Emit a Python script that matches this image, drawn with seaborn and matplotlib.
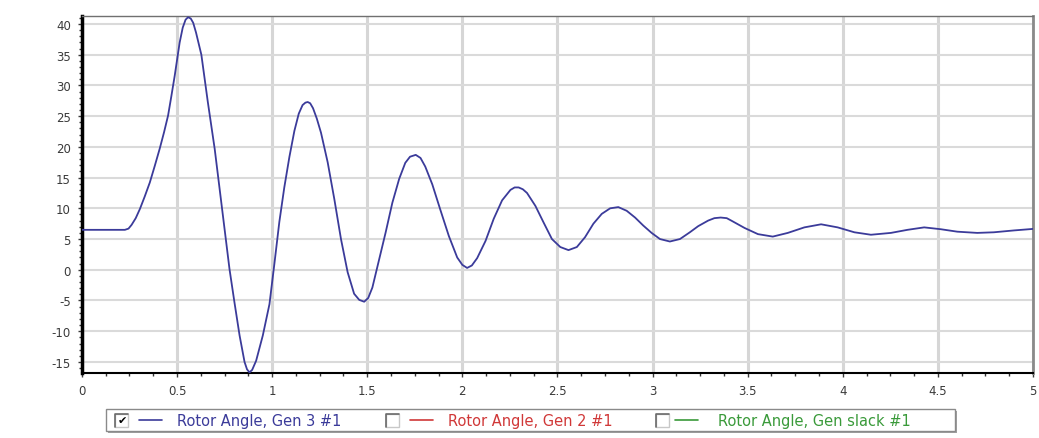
import numpy as np
import pandas as pd
import matplotlib
matplotlib.use("Agg")
import matplotlib.pyplot as plt
from matplotlib.patches import Rectangle
from matplotlib.lines import Line2D
from matplotlib.ticker import MultipleLocator, FuncFormatter
import seaborn as sns

# ---- data ----
time_s = [0.0, 0.10, 0.226, 0.245, 0.261, 0.283, 0.305, 0.330, 0.357, 0.383, 0.409, 0.432,
          0.453, 0.470, 0.488, 0.502, 0.514, 0.530, 0.545,
          0.558, 0.572, 0.585, 0.600, 0.628, 0.662, 0.698, 0.724, 0.750, 0.776, 0.802,
          0.829, 0.855, 0.868, 0.881, 0.895, 0.916, 0.951, 0.986, 1.012, 1.038, 1.064,
          1.091, 1.117, 1.140, 1.160, 1.175, 1.187, 1.200, 1.215, 1.235, 1.257, 1.292,
          1.327, 1.362, 1.397, 1.431, 1.458, 1.484, 1.505, 1.527, 1.562, 1.597, 1.632,
          1.668, 1.700, 1.725, 1.755, 1.780, 1.805, 1.842, 1.885, 1.929, 1.973, 2.000,
          2.025, 2.050, 2.078, 2.122, 2.165, 2.209, 2.253, 2.275, 2.296, 2.318, 2.340,
          2.384, 2.427, 2.471, 2.515, 2.558, 2.602, 2.645, 2.689, 2.733, 2.777, 2.820,
          2.864, 2.908, 2.951, 2.995, 3.039, 3.091, 3.144, 3.196, 3.240, 3.292, 3.325,
          3.358, 3.390, 3.414, 3.484, 3.554, 3.632, 3.711, 3.798, 3.886, 3.973, 4.061,
          4.148, 4.253, 4.340, 4.428, 4.515, 4.602, 4.707, 4.794, 4.899, 5.0]
rotor_angle_gen3 = [6.5, 6.5, 6.5, 6.7, 7.3, 8.4, 9.9, 11.9, 14.2, 16.9, 19.7, 22.4,
                    25.1, 28.2, 31.6, 34.5, 37.0, 39.4, 40.7,
                    41.1, 40.9, 40.2, 38.6, 35.0, 27.3, 19.7, 13.2, 6.6, 0.1, -5.3,
                    -10.7, -15.0, -16.2, -16.7, -16.3, -14.8, -10.7, -5.6, 1.0, 7.8, 13.4,
                    18.4, 22.6, 25.4, 26.8, 27.2, 27.3, 27.1, 26.3, 24.6, 22.3, 17.5,
                    11.5, 5.0, -0.4, -3.9, -4.9, -5.2, -4.6, -2.9, 1.6, 6.1, 10.9,
                    14.8, 17.4, 18.4, 18.7, 18.2, 16.8, 13.9, 9.7, 5.5, 2.0, 0.8,
                    0.3, 0.7, 1.9, 4.7, 8.3, 11.3, 13.0, 13.4, 13.4, 13.1, 12.5,
                    10.4, 7.7, 5.0, 3.7, 3.2, 3.7, 5.3, 7.5, 9.1, 10.0, 10.2,
                    9.6, 8.5, 7.2, 6.0, 5.0, 4.6, 5.0, 6.1, 7.1, 8.0, 8.4,
                    8.5, 8.4, 8.0, 6.8, 5.8, 5.4, 6.0, 6.9, 7.4, 6.9, 6.1,
                    5.7, 6.0, 6.5, 6.9, 6.6, 6.2, 6.0, 6.1, 6.4, 6.65]
series_labels = ["Rotor Angle, Gen 3 #1", "Rotor Angle, Gen 2 #1", "Rotor Angle, Gen slack #1"]
series_colors = ["#3b3b9a", "#d03838", "#3a9a3a"]
series_checked = [True, False, False]
x_ticks = [0, 0.5, 1, 1.5, 2, 2.5, 3, 3.5, 4, 4.5, 5]
y_ticks = [-15, -10, -5, 0, 5, 10, 15, 20, 25, 30, 35, 40]

df = pd.DataFrame({"t": time_s, "angle": rotor_angle_gen3})

sns.set_theme(style="white")
plt.rcParams["font.family"] = ["DejaVu Sans"]

fig = plt.figure(figsize=(10.39, 4.39), dpi=100)
W, H = 1039, 439
ax = fig.add_axes([81.9 / W, 1 - 374 / H, (1033 - 81.9) / W, (374 - 17) / H])

# grid
for xv in x_ticks:
    ax.axvline(xv, color="#d6d6d6", lw=2.2, zorder=0)
for yv in y_ticks:
    ax.axhline(yv, color="#dadada", lw=1.5, zorder=0)

sns.lineplot(data=df, x="t", y="angle", ax=ax, color=series_colors[0], lw=1.3,
             estimator=None, sort=False, zorder=3)

ax.set_xlim(0, 5)
ax.set_ylim(-16.8, 41.3)
ax.set_xticks(x_ticks)
ax.set_yticks(y_ticks)
ax.xaxis.set_minor_locator(MultipleLocator(0.125))
ax.yaxis.set_minor_locator(MultipleLocator(1))
ax.xaxis.set_major_formatter(FuncFormatter(lambda v, p: f"{v:g}"))
ax.yaxis.set_major_formatter(FuncFormatter(lambda v, p: f"{v:g}"))
ax.set_xlabel("")
ax.set_ylabel("")
ax.tick_params(axis="both", which="major", labelsize=8.5, colors="#3a3a3a",
               direction="out", length=3, width=1, pad=5)
ax.tick_params(axis="both", which="minor", direction="out", length=2.5, width=1,
               colors="#333333")
ax.tick_params(axis="x", which="both", bottom=True)
ax.tick_params(axis="y", which="both", left=True)

ax.spines["left"].set_color("black")
ax.spines["left"].set_linewidth(2.5)
ax.spines["bottom"].set_color("black")
ax.spines["bottom"].set_linewidth(1.5)
ax.spines["top"].set_color("#707070")
ax.spines["top"].set_linewidth(1)
ax.spines["right"].set_color("#8a8a8a")
ax.spines["right"].set_linewidth(2)
for s in ax.spines.values():
    s.set_visible(True)

# legend box (checkbox style) drawn in figure pixel coords
def fx(px):
    return px / W

def fy(py):
    return 1 - py / H

lx0, lx1, ly0, ly1 = 106, 955, 410, 432
fig.patches.append(Rectangle((fx(lx0 + 2), fy(ly1 + 2)), fx(lx1 - lx0), (ly1 - ly0) / H,
                             transform=fig.transFigure, facecolor="#a0a0a0",
                             edgecolor="none", zorder=1))
fig.patches.append(Rectangle((fx(lx0), fy(ly1)), fx(lx1 - lx0), (ly1 - ly0) / H,
                             transform=fig.transFigure, facecolor="white",
                             edgecolor="#8a8a8a", lw=1, zorder=2))

box_x = [115, 386, 656]
line_x = [(139, 162), (410, 433), (675, 698)]
text_x = [177, 448, 718]
cy = (ly0 + ly1) / 2
bs = 13
for i, lab in enumerate(series_labels):
    bx = box_x[i]
    fig.patches.append(Rectangle((fx(bx), fy(cy + bs / 2)), bs / W, bs / H,
                                 transform=fig.transFigure, facecolor="white",
                                 edgecolor="#c8c8c8", lw=1, zorder=3))
    # sunken top-left edge
    fig.lines.append(Line2D([fx(bx), fx(bx), fx(bx + bs)],
                            [fy(cy + bs / 2), fy(cy - bs / 2), fy(cy - bs / 2)],
                            transform=fig.transFigure, color="#6a6a6a", lw=1.2, zorder=4))
    if series_checked[i]:
        fig.text(fx(bx + bs / 2 + 0.5), fy(cy + 0.5), "\u2714", ha="center", va="center",
                 fontsize=8, color="black", zorder=5)
    fig.lines.append(Line2D([fx(line_x[i][0]), fx(line_x[i][1])], [fy(cy), fy(cy)],
                            transform=fig.transFigure, color=series_colors[i], lw=1.2,
                            zorder=4))
    fig.text(fx(text_x[i]), fy(cy + 0.5), lab, ha="left", va="center", fontsize=10.5,
             color=series_colors[i], zorder=4)

fig.savefig("out.png", dpi=100, facecolor="white")
